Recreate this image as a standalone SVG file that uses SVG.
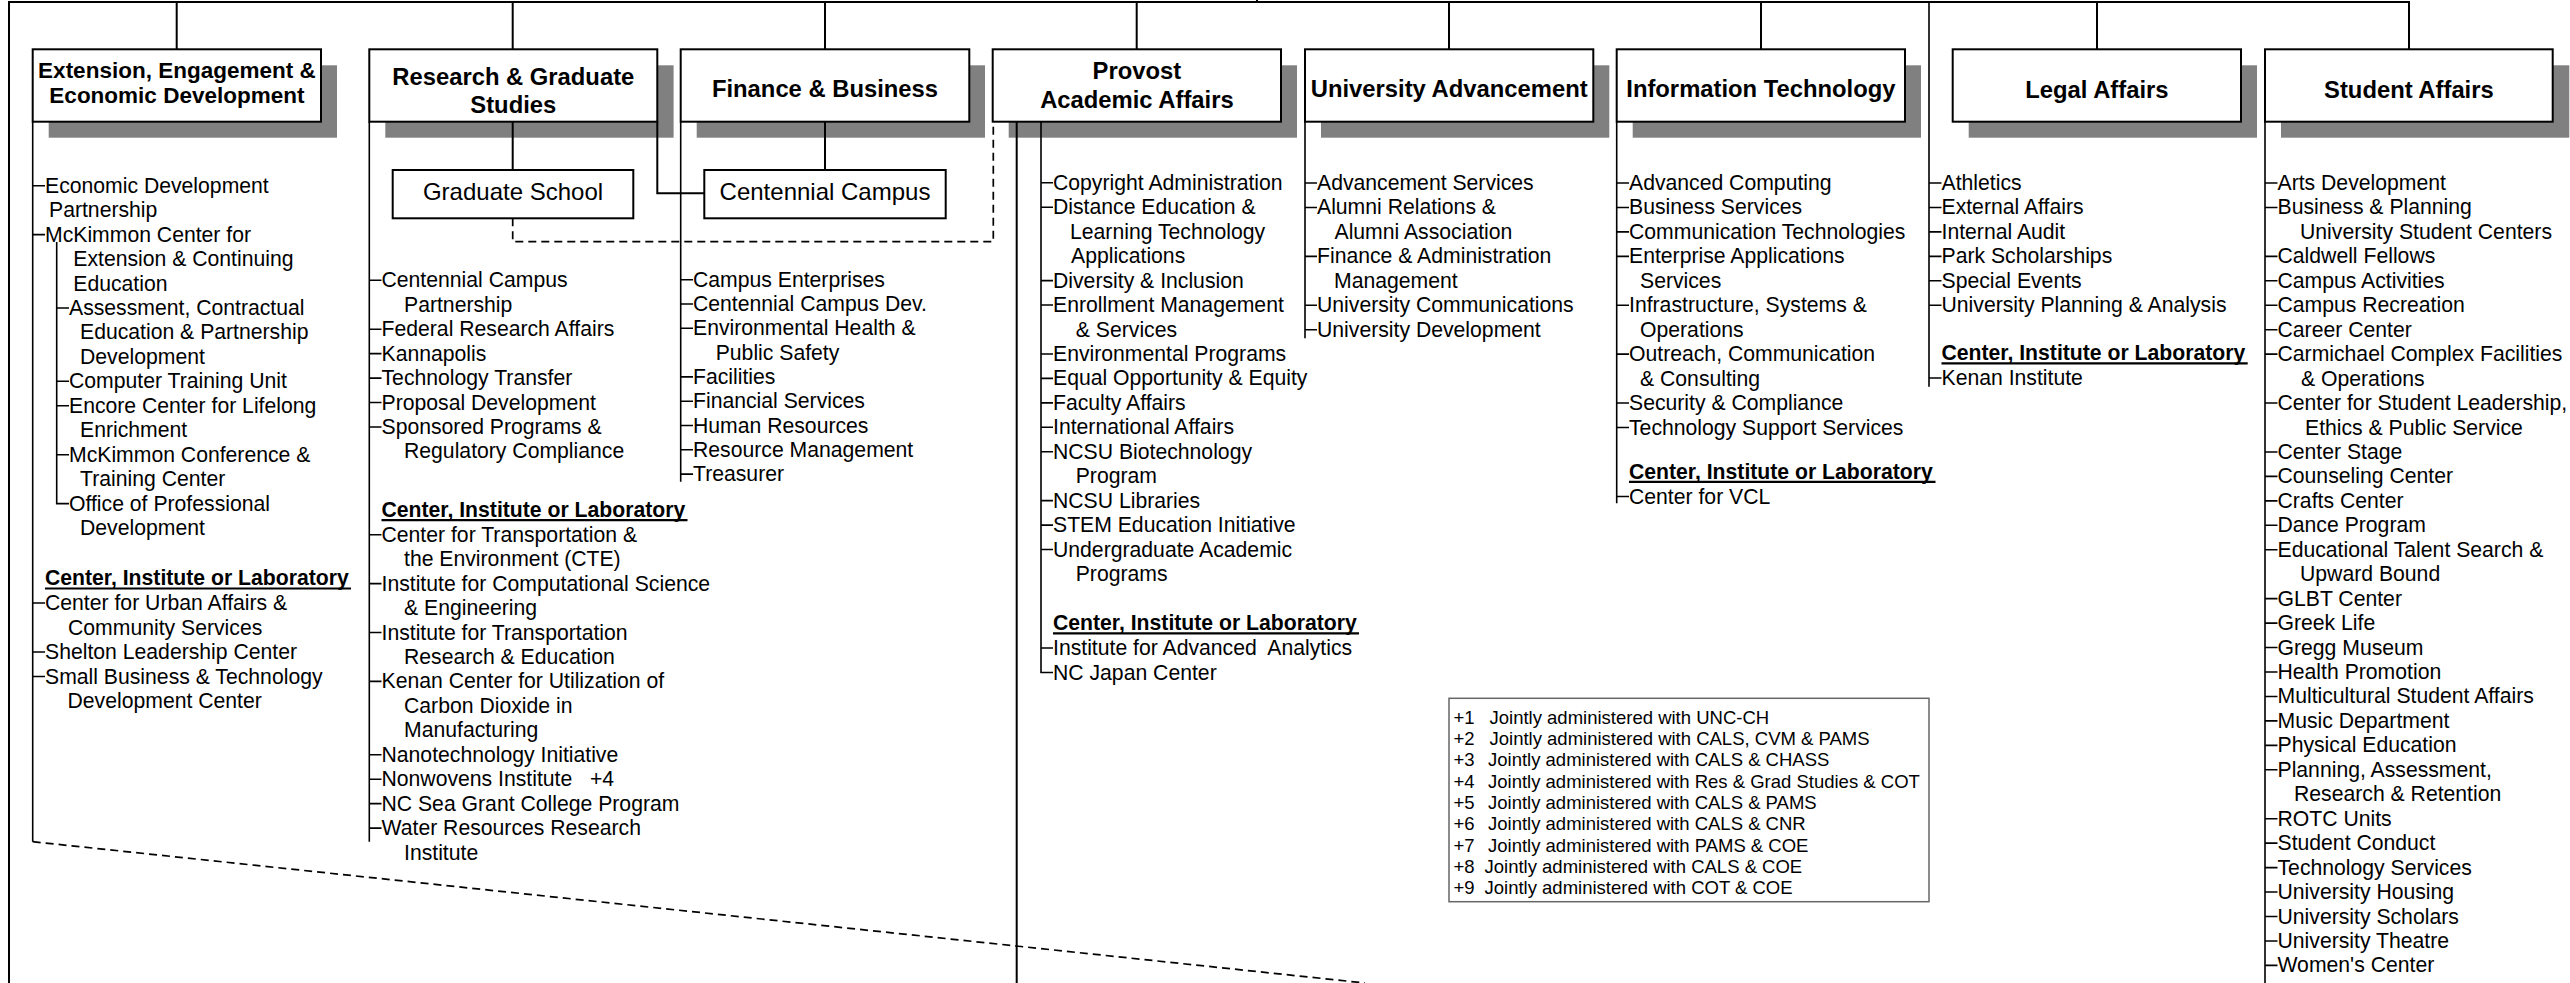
<svg xmlns="http://www.w3.org/2000/svg" width="2570" height="983" viewBox="0 0 2570 983">
<style>
text{font-family:'Liberation Sans',Arial,sans-serif;fill:#000}
.t{font-size:21.2px}
.h{font-size:21.2px;font-weight:bold}
.hd{font-size:23.8px;font-weight:bold;text-anchor:middle}
.sb{font-size:24px;text-anchor:middle}
.lg{font-size:18.5px}
.box{fill:#fff;stroke:#000;stroke-width:2}
.sh{fill:#808080}
.ln{fill:none;stroke:#000;stroke-width:2}
.tr{fill:none;stroke:#000;stroke-width:1.6}
.ul{fill:none;stroke:#000;stroke-width:2.2}
.da{fill:none;stroke:#000;stroke-width:1.7;stroke-dasharray:8 5}
</style>
<rect width="2570" height="983" fill="#fff"/>

<g id="extension">
<rect class="sh" x="48.7" y="65.3" width="288.3" height="72.4"/>
<rect class="box" x="32.7" y="49.3" width="288.3" height="72.4"/>
<text class="hd" style="font-size:22.5px"><tspan x="176.9" y="77.7">Extension, Engagement &amp;</tspan><tspan x="176.9" y="103.3">Economic Development</tspan></text>
<path class="tr" d="M32.7,121.7V841.7M32.7,185.7H45M32.7,234.6H45M32.7,603H45M32.7,652H45M32.7,676.5H45M56.7,242V503.6H69M56.7,308H69M56.7,381.3H69M56.7,405.8H69M56.7,454.7H69"/>
<text class="t" x="45" y="192.7">Economic Development</text>
<text class="t" x="49" y="217.2">Partnership</text>
<text class="t" x="45" y="241.6">McKimmon Center for</text>
<text class="t" x="73.3" y="266.1">Extension &amp; Continuing</text>
<text class="t" x="73.3" y="290.5">Education</text>
<text class="t" x="69" y="315">Assessment, Contractual</text>
<text class="t" x="80" y="339.4">Education &amp; Partnership</text>
<text class="t" x="80" y="363.9">Development</text>
<text class="t" x="69" y="388.3">Computer Training Unit</text>
<text class="t" x="69" y="412.8">Encore Center for Lifelong</text>
<text class="t" x="80" y="437.2">Enrichment</text>
<text class="t" x="69" y="461.7">McKimmon Conference &amp;</text>
<text class="t" x="80" y="486.1">Training Center</text>
<text class="t" x="69" y="510.6">Office of Professional</text>
<text class="t" x="80" y="535">Development</text>
<text class="h" x="45" y="585">Center, Institute or Laboratory</text>
<path class="ul" d="M45,588.5H351"/>
<text class="t" x="45" y="610">Center for Urban Affairs &amp;</text>
<text class="t" x="68" y="634.5">Community Services</text>
<text class="t" x="45" y="659">Shelton Leadership Center</text>
<text class="t" x="45" y="683.5">Small Business &amp; Technology</text>
<text class="t" x="67.5" y="708">Development Center</text>
</g>

<g id="research">
<rect class="sh" x="385.3" y="65.3" width="288.3" height="72.4"/>
<rect class="box" x="369.3" y="49.3" width="288" height="72.4"/>
<text class="hd"><tspan x="513.3" y="85">Research &amp; Graduate</tspan><tspan x="513.3" y="113.3">Studies</tspan></text>
<path class="tr" d="M369.3,121.7V841.7M369.3,280.3H381.5M369.3,329.2H381.5M369.3,353.65H381.5M369.3,378.1H381.5M369.3,402.55H381.5M369.3,427H381.5M369.3,534.7H381.5M369.3,583.6H381.5M369.3,632.5H381.5M369.3,681.4H381.5M369.3,754.75H381.5M369.3,779.2H381.5M369.3,803.65H381.5M369.3,828.1H381.5"/>
<text class="t" x="381.5" y="287.3">Centennial Campus</text>
<text class="t" x="404" y="311.75">Partnership</text>
<text class="t" x="381.5" y="336.2">Federal Research Affairs</text>
<text class="t" x="381.5" y="360.65">Kannapolis</text>
<text class="t" x="381.5" y="385.1">Technology Transfer</text>
<text class="t" x="381.5" y="409.55">Proposal Development</text>
<text class="t" x="381.5" y="434">Sponsored Programs &amp;</text>
<text class="t" x="404" y="458.45">Regulatory Compliance</text>
<text class="h" x="381.5" y="516.7">Center, Institute or Laboratory</text>
<path class="ul" d="M381.5,520.2H687.5"/>
<text class="t" x="381.5" y="541.7">Center for Transportation &amp;</text>
<text class="t" x="404" y="566.15">the Environment (CTE)</text>
<text class="t" x="381.5" y="590.6">Institute for Computational Science</text>
<text class="t" x="404" y="615.05">&amp; Engineering</text>
<text class="t" x="381.5" y="639.5">Institute for Transportation</text>
<text class="t" x="404" y="663.95">Research &amp; Education</text>
<text class="t" x="381.5" y="688.4">Kenan Center for Utilization of</text>
<text class="t" x="404" y="712.85">Carbon Dioxide in</text>
<text class="t" x="404" y="737.3">Manufacturing</text>
<text class="t" x="381.5" y="761.75">Nanotechnology Initiative</text>
<text class="t" x="381.5" y="786.2" xml:space="preserve">Nonwovens Institute   +4</text>
<text class="t" x="381.5" y="810.65">NC Sea Grant College Program</text>
<text class="t" x="381.5" y="835.1">Water Resources Research</text>
<text class="t" x="404" y="859.55">Institute</text>
</g>

<g id="graduate-school">
<rect class="box" x="392.7" y="170" width="240.6" height="48.3"/>
<text class="sb" x="513" y="199.7">Graduate School</text>
</g>

<g id="finance">
<rect class="sh" x="696.7" y="65.3" width="288.3" height="72.4"/>
<rect class="box" x="680.7" y="49.3" width="288.6" height="72.4"/>
<text class="hd" x="825" y="97.3">Finance &amp; Business</text>
<path class="tr" d="M680.7,121.7V481.7M680.7,279.7H693M680.7,304H693M680.7,328.3H693M680.7,376.9H693M680.7,401.2H693M680.7,425.5H693M680.7,449.8H693M680.7,474.1H693"/>
<text class="t" x="693" y="286.7">Campus Enterprises</text>
<text class="t" x="693" y="311">Centennial Campus Dev.</text>
<text class="t" x="693" y="335.3">Environmental Health &amp;</text>
<text class="t" x="715.7" y="359.6">Public Safety</text>
<text class="t" x="693" y="383.9">Facilities</text>
<text class="t" x="693" y="408.2">Financial Services</text>
<text class="t" x="693" y="432.5">Human Resources</text>
<text class="t" x="693" y="456.8">Resource Management</text>
<text class="t" x="693" y="481.1">Treasurer</text>
</g>

<g id="centennial-campus">
<rect class="box" x="704.3" y="170" width="241.4" height="48.3"/>
<text class="sb" x="825" y="199.7">Centennial Campus</text>
</g>

<g id="provost">
<rect class="sh" x="1008.7" y="65.3" width="288.3" height="72.4"/>
<rect class="box" x="992.7" y="49.3" width="288.3" height="72.4"/>
<text class="hd"><tspan x="1136.9" y="79">Provost</tspan><tspan x="1136.9" y="107.7">Academic Affairs</tspan></text>
<path class="ln" d="M1016.7,121.7V983"/>
<path class="tr" d="M1041,121.7V672.5H1053M1041,182.8H1053M1041,207.25H1053M1041,280.6H1053M1041,305.05H1053M1041,353.95H1053M1041,378.4H1053M1041,402.85H1053M1041,427.3H1053M1041,451.75H1053M1041,500.65H1053M1041,525.1H1053M1041,549.55H1053M1041,648H1053"/>
<text class="t" x="1053" y="189.8">Copyright Administration</text>
<text class="t" x="1053" y="214.25">Distance Education &amp;</text>
<text class="t" x="1070" y="238.7">Learning Technology</text>
<text class="t" x="1071" y="263.15">Applications</text>
<text class="t" x="1053" y="287.6">Diversity &amp; Inclusion</text>
<text class="t" x="1053" y="312.05">Enrollment Management</text>
<text class="t" x="1075.8" y="336.5">&amp; Services</text>
<text class="t" x="1053" y="360.95">Environmental Programs</text>
<text class="t" x="1053" y="385.4">Equal Opportunity &amp; Equity</text>
<text class="t" x="1053" y="409.85">Faculty Affairs</text>
<text class="t" x="1053" y="434.3">International Affairs</text>
<text class="t" x="1053" y="458.75">NCSU Biotechnology</text>
<text class="t" x="1075.7" y="483.2">Program</text>
<text class="t" x="1053" y="507.65">NCSU Libraries</text>
<text class="t" x="1053" y="532.1">STEM Education Initiative</text>
<text class="t" x="1053" y="556.55">Undergraduate Academic</text>
<text class="t" x="1075.7" y="581">Programs</text>
<text class="h" x="1053" y="630">Center, Institute or Laboratory</text>
<path class="ul" d="M1053,633.3H1359"/>
<text class="t" x="1053" y="655" xml:space="preserve">Institute for Advanced  Analytics</text>
<text class="t" x="1053" y="679.5">NC Japan Center</text>
</g>

<g id="advancement">
<rect class="sh" x="1321" y="65.3" width="288.3" height="72.4"/>
<rect class="box" x="1305" y="49.3" width="288.3" height="72.4"/>
<text class="hd" x="1449.2" y="97.3">University Advancement</text>
<path class="tr" d="M1305,121.7V338.3M1305,183H1317M1305,207.45H1317M1305,256.35H1317M1305,305.25H1317M1305,329.7H1317"/>
<text class="t" x="1317" y="190">Advancement Services</text>
<text class="t" x="1317" y="214.45">Alumni Relations &amp;</text>
<text class="t" x="1334.5" y="238.9">Alumni Association</text>
<text class="t" x="1317" y="263.35">Finance &amp; Administration</text>
<text class="t" x="1334" y="287.8">Management</text>
<text class="t" x="1317" y="312.25">University Communications</text>
<text class="t" x="1317" y="336.7">University Development</text>
</g>

<g id="information-technology">
<rect class="sh" x="1632.7" y="65.3" width="288.3" height="72.4"/>
<rect class="box" x="1616.7" y="49.3" width="288.3" height="72.4"/>
<text class="hd" x="1760.9" y="97.3">Information Technology</text>
<path class="tr" d="M1616.7,121.7V503.3M1616.7,183H1629M1616.7,207.45H1629M1616.7,231.9H1629M1616.7,256.35H1629M1616.7,305.25H1629M1616.7,354.15H1629M1616.7,403.05H1629M1616.7,427.5H1629M1616.7,496.5H1629"/>
<text class="t" x="1629" y="190">Advanced Computing</text>
<text class="t" x="1629" y="214.45">Business Services</text>
<text class="t" x="1629" y="238.9">Communication Technologies</text>
<text class="t" x="1629" y="263.35">Enterprise Applications</text>
<text class="t" x="1640" y="287.8">Services</text>
<text class="t" x="1629" y="312.25">Infrastructure, Systems &amp;</text>
<text class="t" x="1640" y="336.7">Operations</text>
<text class="t" x="1629" y="361.15">Outreach, Communication</text>
<text class="t" x="1640" y="385.6">&amp; Consulting</text>
<text class="t" x="1629" y="410.05">Security &amp; Compliance</text>
<text class="t" x="1629" y="434.5">Technology Support Services</text>
<text class="h" x="1629" y="478.5">Center, Institute or Laboratory</text>
<path class="ul" d="M1629,481.8H1935.5"/>
<text class="t" x="1629" y="503.5">Center for VCL</text>
</g>

<g id="chancellor-units">
<path class="tr" d="M1929,2V386.7M1929,183H1941.5M1929,207.45H1941.5M1929,231.9H1941.5M1929,256.35H1941.5M1929,280.8H1941.5M1929,305.25H1941.5M1929,378H1941.5"/>
<text class="t" x="1941.5" y="190">Athletics</text>
<text class="t" x="1941.5" y="214.45">External Affairs</text>
<text class="t" x="1941.5" y="238.9">Internal Audit</text>
<text class="t" x="1941.5" y="263.35">Park Scholarships</text>
<text class="t" x="1941.5" y="287.8">Special Events</text>
<text class="t" x="1941.5" y="312.25">University Planning &amp; Analysis</text>
<text class="h" x="1941.5" y="360">Center, Institute or Laboratory</text>
<path class="ul" d="M1941.5,363.3H2247.7"/>
<text class="t" x="1941.5" y="385">Kenan Institute</text>
</g>

<g id="legal">
<rect class="sh" x="1968.7" y="65.3" width="288.3" height="72.4"/>
<rect class="box" x="1952.7" y="49.3" width="288.3" height="72.4"/>
<text class="hd" x="2096.9" y="98">Legal Affairs</text>
</g>

<g id="student-affairs">
<rect class="sh" x="2281" y="65.3" width="288.3" height="72.4"/>
<rect class="box" x="2265" y="49.3" width="287.7" height="72.4"/>
<text class="hd" x="2408.9" y="98">Student Affairs</text>
<path class="tr" d="M2265,121.7V983M2265,183H2277.5M2265,207.45H2277.5M2265,256.35H2277.5M2265,280.8H2277.5M2265,305.25H2277.5M2265,329.7H2277.5M2265,354.15H2277.5M2265,403.05H2277.5M2265,451.95H2277.5M2265,476.4H2277.5M2265,500.85H2277.5M2265,525.3H2277.5M2265,549.75H2277.5M2265,598.65H2277.5M2265,623.1H2277.5M2265,647.55H2277.5M2265,672H2277.5M2265,696.45H2277.5M2265,720.9H2277.5M2265,745.35H2277.5M2265,769.8H2277.5M2265,818.7H2277.5M2265,843.15H2277.5M2265,867.6H2277.5M2265,892.05H2277.5M2265,916.5H2277.5M2265,940.95H2277.5M2265,965.4H2277.5"/>
<text class="t" x="2277.5" y="190">Arts Development</text>
<text class="t" x="2277.5" y="214.45">Business &amp; Planning</text>
<text class="t" x="2300" y="238.9">University Student Centers</text>
<text class="t" x="2277.5" y="263.35">Caldwell Fellows</text>
<text class="t" x="2277.5" y="287.8">Campus Activities</text>
<text class="t" x="2277.5" y="312.25">Campus Recreation</text>
<text class="t" x="2277.5" y="336.7">Career Center</text>
<text class="t" x="2277.5" y="361.15">Carmichael Complex Facilities</text>
<text class="t" x="2301" y="385.6">&amp; Operations</text>
<text class="t" x="2277.5" y="410.05">Center for Student Leadership,</text>
<text class="t" x="2305" y="434.5">Ethics &amp; Public Service</text>
<text class="t" x="2277.5" y="458.95">Center Stage</text>
<text class="t" x="2277.5" y="483.4">Counseling Center</text>
<text class="t" x="2277.5" y="507.85">Crafts Center</text>
<text class="t" x="2277.5" y="532.3">Dance Program</text>
<text class="t" x="2277.5" y="556.75">Educational Talent Search &amp;</text>
<text class="t" x="2300" y="581.2">Upward Bound</text>
<text class="t" x="2277.5" y="605.65">GLBT Center</text>
<text class="t" x="2277.5" y="630.1">Greek Life</text>
<text class="t" x="2277.5" y="654.55">Gregg Museum</text>
<text class="t" x="2277.5" y="679">Health Promotion</text>
<text class="t" x="2277.5" y="703.45">Multicultural Student Affairs</text>
<text class="t" x="2277.5" y="727.9">Music Department</text>
<text class="t" x="2277.5" y="752.35">Physical Education</text>
<text class="t" x="2277.5" y="776.8">Planning, Assessment,</text>
<text class="t" x="2294" y="801.25">Research &amp; Retention</text>
<text class="t" x="2277.5" y="825.7">ROTC Units</text>
<text class="t" x="2277.5" y="850.15">Student Conduct</text>
<text class="t" x="2277.5" y="874.6">Technology Services</text>
<text class="t" x="2277.5" y="899.05">University Housing</text>
<text class="t" x="2277.5" y="923.5">University Scholars</text>
<text class="t" x="2277.5" y="947.95">University Theatre</text>
<text class="t" x="2277.5" y="972.4">Women's Center</text>
</g>

<g id="legend">
<rect x="1449" y="698.3" width="480" height="203.4" fill="#fff" stroke="#666" stroke-width="1.5"/>
<text class="lg" y="723.5"><tspan x="1453.5">+1 </tspan><tspan x="1489.5">Jointly administered with UNC-CH</tspan></text>
<text class="lg" y="744.9"><tspan x="1453.5">+2 </tspan><tspan x="1489.5">Jointly administered with CALS, CVM &amp; PAMS</tspan></text>
<text class="lg" y="766.2"><tspan x="1453.5">+3 </tspan><tspan x="1488">Jointly administered with CALS &amp; CHASS</tspan></text>
<text class="lg" y="787.6"><tspan x="1453.5">+4 </tspan><tspan x="1488">Jointly administered with Res &amp; Grad Studies &amp; COT</tspan></text>
<text class="lg" y="808.9"><tspan x="1453.5">+5 </tspan><tspan x="1488">Jointly administered with CALS &amp; PAMS</tspan></text>
<text class="lg" y="830.3"><tspan x="1453.5">+6 </tspan><tspan x="1488">Jointly administered with CALS &amp; CNR</tspan></text>
<text class="lg" y="851.6"><tspan x="1453.5">+7 </tspan><tspan x="1488">Jointly administered with PAMS &amp; COE</tspan></text>
<text class="lg" y="873"><tspan x="1453.5">+8 </tspan><tspan x="1484.5">Jointly administered with CALS &amp; COE</tspan></text>
<text class="lg" y="894.3"><tspan x="1453.5">+9 </tspan><tspan x="1484.5">Jointly administered with COT &amp; COE</tspan></text>
</g>

<g id="connectors">
<path class="ln" d="M9,983V2H2409V49.3"/>
<path class="ln" d="M1257,0V2"/>
<path class="ln" d="M176.7,2V49.3M512.7,2V49.3M825,2V49.3M1136.7,2V49.3M1449,2V49.3M1761,2V49.3M2097,2V49.3"/>
<path class="ln" d="M512.7,121.7V170M825,121.7V170M657.3,121.7V193.3H704.3"/>
<path class="da" d="M512.7,218.3V241.7H993.3V121.7"/>
<path class="da" d="M32.7,841.7L1365,983"/>
</g>
</svg>
